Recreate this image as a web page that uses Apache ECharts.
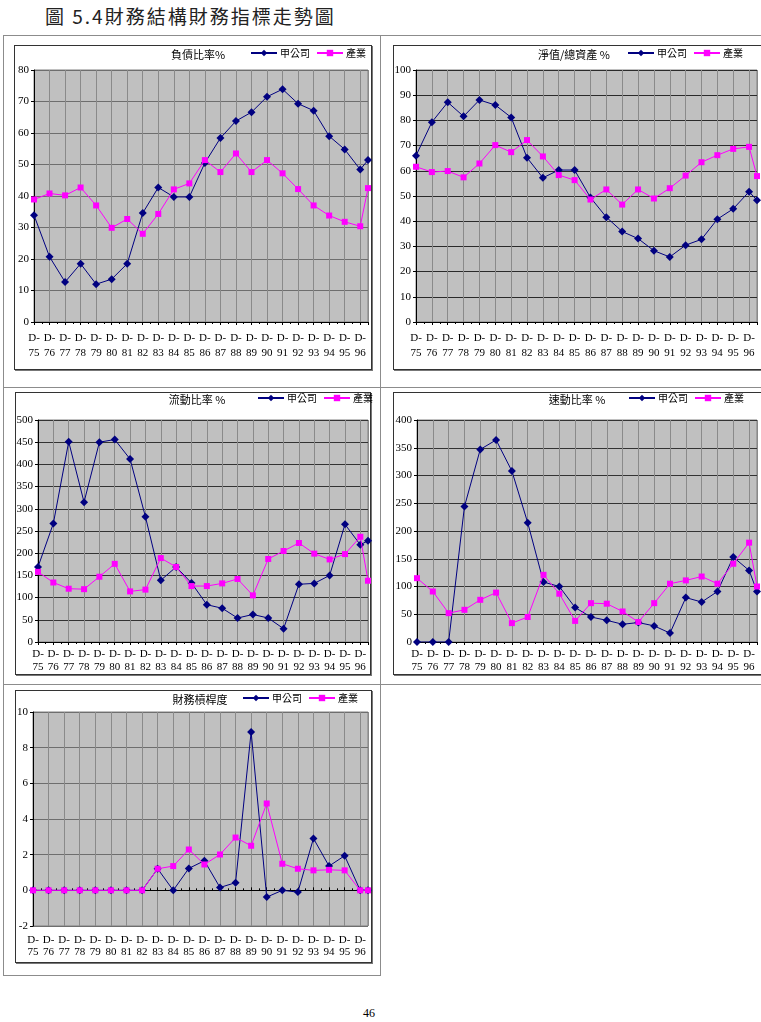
<!DOCTYPE html>
<html><head><meta charset="utf-8">
<script src="https://cdn.jsdelivr.net/npm/echarts@6/dist/echarts.min.js"></script>
<style>
html,body{margin:0;padding:0;background:#fff;width:761px;height:1022px;overflow:hidden;position:relative}
.ln{position:absolute;background:#8c8c8c}
.frame{position:absolute;box-sizing:border-box;border:1px solid #333;box-shadow:1px 1px 0 #777;background:#fff}
#title{position:absolute;left:45px;top:2px;font-family:"Noto Sans CJK TC";font-size:19px;letter-spacing:2px;color:#222;white-space:pre}
#pg{position:absolute;left:363px;top:1006px;font-family:"Liberation Serif";font-size:12px;line-height:14px;color:#000}
#chart{position:absolute;left:0;top:0;width:761px;height:1022px}
</style></head><body>
<div id="title">圖 5.4財務結構財務指標走勢圖</div>
<div class="ln" style="left:3px;top:35px;width:758px;height:1px"></div>
<div class="ln" style="left:3px;top:35px;width:1px;height:941px"></div>
<div class="ln" style="left:380px;top:35px;width:1px;height:941px"></div>
<div class="ln" style="left:3px;top:387px;width:758px;height:1px"></div>
<div class="ln" style="left:3px;top:684px;width:758px;height:1px"></div>
<div class="ln" style="left:3px;top:975px;width:378px;height:1px"></div>
<div class="frame" style="left:14px;top:45px;width:358px;height:325px"></div>
<div class="frame" style="left:393px;top:45px;width:380px;height:325px"></div>
<div class="frame" style="left:15px;top:392px;width:356px;height:283px"></div>
<div class="frame" style="left:393px;top:392px;width:380px;height:283px"></div>
<div class="frame" style="left:15px;top:690px;width:357px;height:273px"></div>
<div id="pg">46</div>
<div id="chart"></div>
<script>
// ---- data ----
const periods = [75,76,77,78,79,80,81,82,83,84,85,86,87,88,89,90,91,92,93,94,95,96,96.5];
const xTickLabels = ['D-75','D-76','D-77','D-78','D-79','D-80','D-81','D-82','D-83','D-84','D-85','D-86','D-87','D-88','D-89','D-90','D-91','D-92','D-93','D-94','D-95','D-96'];
const seriesNames = ['甲公司','產業'];
const chartTitles = ['負債比率%','淨值/總資產 %','流動比率 %','速動比率 %','財務槓桿度'];

const debtCo  = [33.9,20.7,12.7,18.5,12.0,13.6,18.5,34.6,42.7,39.7,39.7,50.5,58.4,63.8,66.6,71.5,73.9,69.3,67.1,59.0,54.8,48.4,51.4];
const debtInd = [38.9,40.8,40.2,42.7,37.0,29.9,32.7,28.0,34.3,42.1,44.0,51.4,47.6,53.5,47.6,51.4,47.2,42.2,37.0,33.8,31.8,30.4,42.5];

const eqCo  = [66.0,79.3,87.2,81.6,88.1,86.1,81.2,65.2,57.2,60.3,60.3,49.4,41.6,35.9,33.1,28.3,25.8,30.5,32.8,40.8,44.9,51.7,48.3];
const eqInd = [61.6,59.5,59.9,57.4,62.9,70.2,67.4,72.2,65.7,58.3,56.3,48.6,52.6,46.6,52.6,49.0,53.1,58.1,63.4,66.2,68.7,69.5,57.9];

const curCo  = [169,267,451,315,450,456,412,282,139,169,133,84,76,54,62,54,30,130,132,150,265,219,228];
const curInd = [158,134,120,119,147,176,114,118,189,169,126,126,132,142,105,187,205,223,199,186,198,237,138];

const quickCo  = [0,0,0,244,347,364,308,215,108,100,62,45,39,32,35,29,16,80,72,91,153,129,91];
const quickInd = [115,91,52,58,76,89,34,45,121,87,38,70,69,55,36,70,105,111,118,105,141,179,100];

const levCo  = [0,0,0,0,0,0,0,0,1.21,0,1.23,1.66,0.16,0.43,8.88,-0.38,0,-0.1,2.91,1.36,1.94,0,0];
const levInd = [0,0,0,0,0,0,0,0,1.21,1.36,2.29,1.45,2.01,2.96,2.50,4.87,1.49,1.21,1.12,1.15,1.12,0,0];

// ---- layout ----
const panels = [
  {co:debtCo, ind:debtInd, grid:{left:34,top:70,width:334,height:252}, y:{min:0,max:80,interval:10}, tpos:[198,55], lpos:[250,55], hcol:'#6e6e6e', lh:15, lm:9},
  {co:eqCo, ind:eqInd, grid:{left:416,top:70,width:341,height:252}, y:{min:0,max:100,interval:10}, tpos:[574,55], lpos:[627,55], hcol:'#2a2a2a', lh:15, lm:9},
  {co:curCo, ind:curInd, grid:{left:38,top:420,width:330,height:222}, y:{min:0,max:500,interval:50}, tpos:[197,400], lpos:[257,400], hcol:'#333', lh:13, lm:6},
  {co:quickCo, ind:quickInd, grid:{left:417,top:420,width:340,height:222}, y:{min:0,max:400,interval:50}, tpos:[577,400], lpos:[628,400], hcol:'#333', lh:13, lm:6},
  {co:levCo, ind:levInd, grid:{left:33,top:712,width:335,height:214}, y:{min:-2,max:10,interval:2}, tpos:[200,700], lpos:[242,700], hcol:'#6e6e6e', lh:12, lm:8}
];

const serif = "'Liberation Serif', 'Times New Roman', serif";
const cjk = "'Noto Sans CJK TC', sans-serif";

const grids = [], xAxes = [], yAxes = [], series = [], legends = [], graphics = [];
function fmtX(v){
  const i = periods.indexOf(v);
  if (i < 0 || i >= xTickLabels.length) return '';
  return xTickLabels[i].replace('-', '-\n');
}
panels.forEach((p, k) => {
  grids.push(Object.assign({show:true, backgroundColor:'#C0C0C0', borderColor:'#808080', borderWidth:1, containLabel:false}, p.grid));
  const zeroLine = p.y.min < 0;
  xAxes.push({
    type:'value', gridIndex:k, min:75, max:96.5, interval:1,
    axisLine:{show:!zeroLine, onZero:false, lineStyle:{color:'#000', width:1}},
    axisTick:{show:!zeroLine, length:3, lineStyle:{color:'#000'}},
    minorTick:{show:!zeroLine, splitNumber:2, length:2, lineStyle:{color:'#000'}},
    splitLine:{show:true, lineStyle:{color:'#8a8a8a', width:1}},
    axisLabel:{formatter:fmtX, showMaxLabel:false, fontFamily:serif, fontSize:11, lineHeight:p.lh, margin:p.lm, color:'#000'}
  });
  const xi = xAxes.length - 1;
  if (zeroLine) {
    xAxes.push({
      type:'value', gridIndex:k, min:75, max:96.5, interval:1,
      axisLine:{show:true, onZero:true, lineStyle:{color:'#000', width:1}},
      axisTick:{show:true, length:3, lineStyle:{color:'#000'}},
      minorTick:{show:true, splitNumber:2, length:2, lineStyle:{color:'#000'}},
      splitLine:{show:false}, axisLabel:{show:false}
    });
  }
  yAxes.push({
    type:'value', gridIndex:k, min:p.y.min, max:p.y.max, interval:p.y.interval,
    axisLine:{show:true, lineStyle:{color:'#000', width:1}},
    axisTick:{show:true, length:3, lineStyle:{color:'#000'}},
    splitLine:{show:true, lineStyle:{color:p.hcol, width:1}},
    axisLabel:{fontFamily:serif, fontSize:11, color:'#000', margin:5}
  });
  series.push({
    name:seriesNames[0], type:'line', xAxisIndex:xi, yAxisIndex:k,
    data: periods.map((x,i)=>[x, p.co[i]]),
    symbol:'diamond', symbolSize:8, color:'#000080',
    lineStyle:{color:'#000080', width:1}, itemStyle:{color:'#000080'}, z:3
  });
  series.push({
    name:seriesNames[1], type:'line', xAxisIndex:xi, yAxisIndex:k,
    data: periods.map((x,i)=>[x, p.ind[i]]),
    symbol:'rect', symbolSize:6, color:'#FF00FF',
    lineStyle:{color:'#FF00FF', width:1}, itemStyle:{color:'#FF00FF'}, z:4
  });
  legends.push({
    data:seriesNames, left:p.lpos[0], top:p.lpos[1]-7, padding:0,
    itemWidth:26, itemHeight:8, itemGap:6, selectedMode:false,
    textStyle:{fontFamily:cjk, fontSize:10, color:'#000', padding:[0,0,0,-2]}
  });
  graphics.push({
    type:'text', x:p.tpos[0], y:p.tpos[1],
    style:{text:chartTitles[k], fontFamily:cjk, fontSize:11, fill:'#000', textAlign:'center', textVerticalAlign:'middle'}
  });
});

const chart = echarts.init(document.getElementById('chart'), null, {renderer:'canvas'});
chart.setOption({
  animation:false,
  backgroundColor:'transparent',
  grid:grids, xAxis:xAxes, yAxis:yAxes, series:series, legend:legends,
  graphic:graphics
});
</script>
</body></html>
